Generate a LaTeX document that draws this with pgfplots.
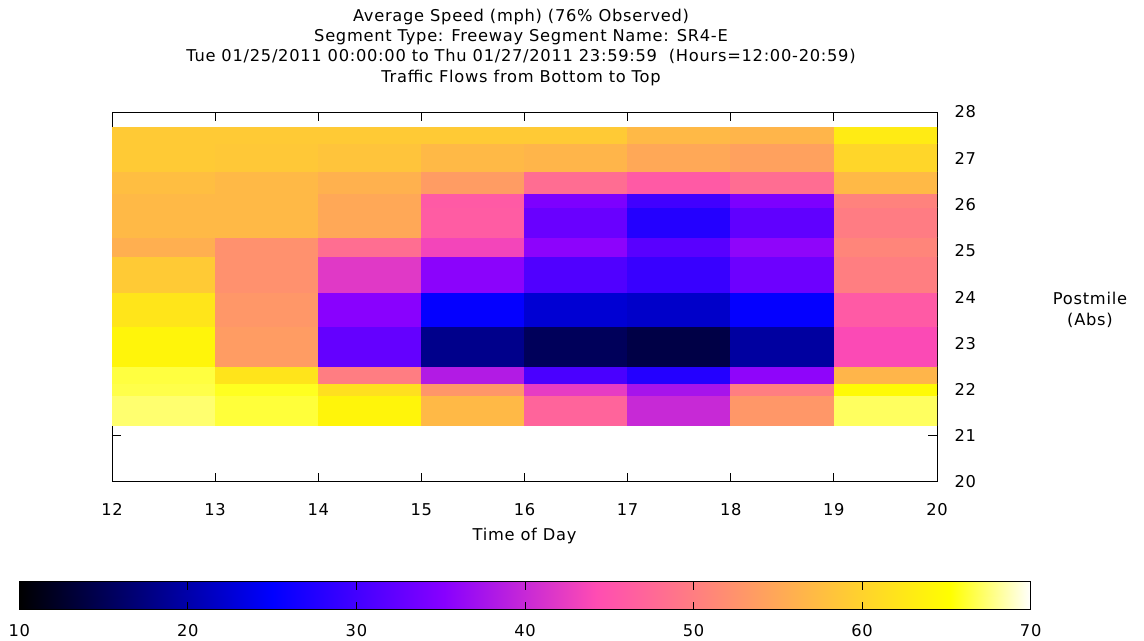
\documentclass[border=0pt]{standalone}
\usepackage{fontspec}
\setmainfont{DejaVu Sans}[LetterSpace=4.5]
\usepackage{pgfplots}
\usepackage{pgfplotstable}
\pgfplotsset{compat=1.18}
\newcommand\f{\fontsize{12.2}{15.2}\selectfont}
\pgfplotsset{
  /pgf/number format/assume math mode=true,
  colormap={pems}{rgb(0pt)=(0,0,0); rgb(25pt)=(0,0,1); rgb(42pt)=(0.53125,0,1); rgb(57pt)=(1,0.3,0.7); rgb(92pt)=(1,1,0); rgb(100pt)=(1,1,1)},
}
\pgfplotstableread{
x y c
12 21.23 67.3
13 21.23 66.3
14 21.23 64
15 21.23 57
16 21.23 47
17 21.23 40
18 21.23 53
19 21.23 67
20 21.23 67

12 21.88 66.6
13 21.88 65.8
14 21.88 61.6
15 21.88 52.9
16 21.88 42.3
17 21.88 37.5
18 21.88 50
19 21.88 64.6
20 21.88 64.6

12 22.13 66.4
13 22.13 62
14 22.13 49.9
15 22.13 38.4
16 22.13 30.6
17 22.13 27.7
18 22.13 35.8
19 22.13 56.5
20 22.13 56.5

12 22.51 64
13 22.51 53.5
14 22.51 32.5
15 22.51 18.2
16 22.51 15.3
17 22.51 14.1
18 22.51 19.4
19 22.51 43.9
20 22.51 43.9

12 23.37 62.2
13 23.37 53
14 23.37 35.3
15 23.37 25.3
16 23.37 22.4
17 23.37 21.8
18 23.37 25.3
19 23.37 45.8
20 23.37 45.8

12 24.10 59
13 24.10 52.3
14 24.10 41.9
15 24.10 35.5
16 24.10 31
17 24.10 29.2
18 24.10 33.2
19 24.10 50
20 24.10 50

12 24.89 55.8
13 24.89 52.3
14 24.89 48.1
15 24.89 43.3
16 24.89 35.6
17 24.89 31.7
18 24.89 35.8
19 24.89 50.8
20 24.89 50.8

12 25.30 57
13 25.30 57
14 25.30 55
15 25.30 46
16 25.30 32.9
17 25.30 27.7
18 25.30 32.2
19 25.30 49.8
20 25.30 49.8

12 25.95 57
13 25.95 57
14 25.95 55
15 25.95 45.8
16 25.95 34.4
17 25.95 29.9
18 25.95 34.4
19 25.95 50.5
20 25.95 50.5

12 26.24 57.5
13 26.24 57
14 26.24 56
15 26.24 53.5
16 26.24 48
17 26.24 45.8
18 26.24 48
19 26.24 57
20 26.24 57

12 26.72 59
13 26.72 58.7
14 26.72 58.3
15 26.72 57
16 26.72 56.5
17 26.72 55
18 26.72 54.2
19 26.72 60.4
20 26.72 60.4

12 27.32 59
13 27.32 59
14 27.32 59
15 27.32 59
16 27.32 59
17 27.32 57
18 27.32 56.5
19 27.32 62.8
20 27.32 62.8

12 27.66 59
13 27.66 59
14 27.66 59
15 27.66 59
16 27.66 59
17 27.66 57
18 27.66 56.5
19 27.66 62.8
20 27.66 62.8
}\speed
\pgfplotstableread{
x y c
10 0 10
25 0 25
35.2 0 35.2
44.2 0 44.2
65.2 0 65.2
70 0 70

10 1 10
25 1 25
35.2 1 35.2
44.2 1 44.2
65.2 1 65.2
70 1 70
}\cbar
\begin{document}
\f
\begin{tikzpicture}
\path[use as bounding box] (0,0) rectangle (858pt,480.75pt);
\begin{axis}[
  at={(84pt,119.25pt)}, anchor=south west,
  scale only axis, width=618.75pt, height=277.5pt,
  xmin=12, xmax=20, ymin=20, ymax=28,
  xtick={12,...,20}, ytick={20,...,28},
  tick align=inside, tick pos=both,
  xticklabel pos=lower, yticklabel pos=right,
  major tick length=6.75pt,
  tick style={black, line width=0.75pt},
  axis line style={black, line width=0.75pt},
  xticklabel style={font=\f, yshift=-12pt},
  yticklabel style={font=\f, xshift=8.9pt},
  colormap name=pems, point meta min=10, point meta max=70,
  title={Average Speed (mph) (76\% Observed)\\Segment Type: Freeway Segment Name: SR4-E\\Tue 01/25/2011 00:00:00 to Thu 01/27/2011 23:59:59~ (Hours=12:00-20:59)\\Traffic Flows from Bottom to Top},
  title style={align=center, font=\f, at={(0.5,1)}, anchor=south, inner sep=0pt, yshift=13.6pt, xshift=-2.6pt},
  xlabel={Time of Day},
  xlabel style={font=\f, at={(axis description cs:0.5,0)}, anchor=center, yshift=-40.5pt},
  every axis y label/.style={at={(axis description cs:1,0.465)}, anchor=center, xshift=114.75pt, align=center, font=\f},
  ylabel={Postmile\\(Abs)},
]
\addplot[surf, shader=flat corner, mesh/cols=9, point meta=explicit] table[meta index=2] {\speed};
\end{axis}
\begin{axis}[
  at={(14.5pt,23.25pt)}, anchor=south west,
  scale only axis, width=758.5pt, height=21.2pt,
  xmin=10, xmax=70, ymin=0, ymax=1,
  xtick={10,20,...,70}, ytick=\empty,
  tick align=inside, xtick pos=both, xticklabel pos=lower,
  major tick length=6pt,
  tick style={black, line width=0.75pt},
  axis line style={black, line width=0.75pt},
  xticklabel style={font=\f, yshift=-6.6pt},
  colormap name=pems, point meta min=10, point meta max=70,
  axis on top,
]
\addplot[surf, shader=interp, mesh/cols=6, point meta=explicit] table[meta index=2] {\cbar};
\end{axis}
\end{tikzpicture}
\end{document}
